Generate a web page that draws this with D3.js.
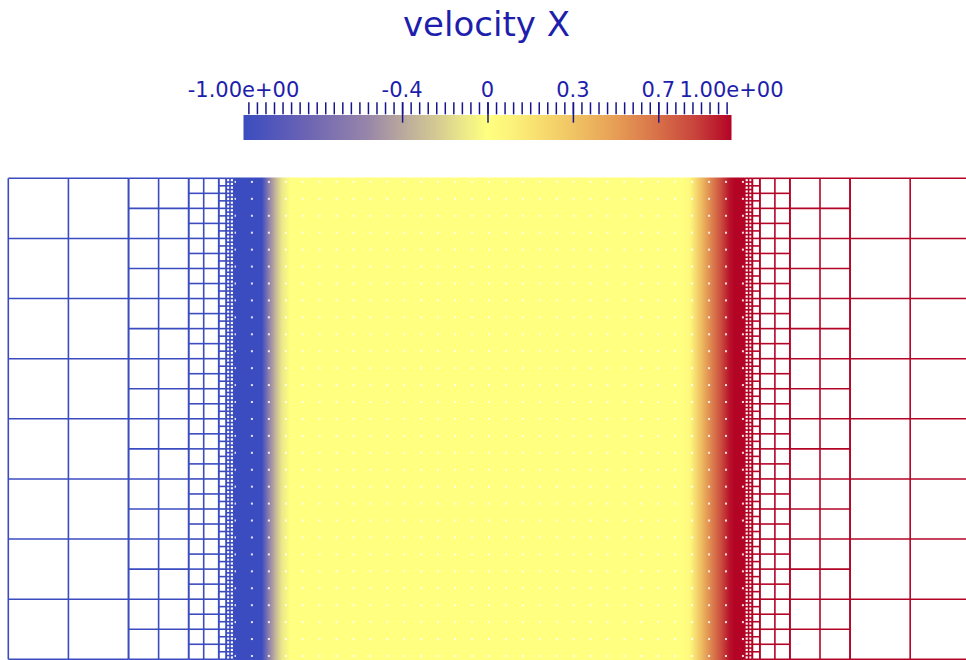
<!DOCTYPE html>
<html><head><meta charset="utf-8">
<script src="https://cdn.jsdelivr.net/npm/d3@7/dist/d3.min.js"></script>
<style>body{margin:0;background:#fff;} svg{display:block;}</style>
</head><body>
<svg id="chart" width="966" height="660"></svg>
<script>
// ---------- data ----------
const title = "velocity X";
const cmapValues = [-1, -0.75, -0.5, -0.35, -0.2, -0.1, 0, 0.1, 0.2, 0.35, 0.5, 0.7, 0.85, 1];
const cmapColors = ["#3b4cc0", "#6a63b4", "#9684aa", "#b9a89d", "#d6cc92", "#ebe889", "#ffff80",
                    "#fcf27a", "#f8e070", "#f0c464", "#e8a458", "#d87048", "#c8443c", "#b40426"];
const minorTickStep = 0.035;
const majorTicks = [-0.35, 0, 0.35, 0.7];
const majorTickLabels = ["-0.4", "0", "0.3", "0.7"];
const rangeValues = [-1, 1];
const rangeLabels = ["-1.00e+00", "1.00e+00"];

// mesh blocks: [x start, x end, refinement level, velocity X]
const meshBlocks = [
  [-1, -0.75, 0, -1], [-0.75, -0.625, 1, -1], [-0.625, -0.5625, 2, -1],
  [-0.5625, -0.546875, 3, -1], [-0.546875, -0.53125, 4, -1],
  [0.53125, 0.546875, 4, 1], [0.546875, 0.5625, 3, 1], [0.5625, 0.625, 2, 1],
  [0.625, 0.75, 1, 1], [0.75, 1, 0, 1]
];
const coarseCell = 0.125;
// fine region velocity profile (x position, velocity X)
const profileX = [-0.53125, -0.4726, -0.46, -0.445, -0.431, -0.414, 0.40, 0.417, 0.438, 0.459, 0.48, 0.50, 0.51, 0.53125];
const profileV = [-1, -1, -0.6, -0.3, -0.1, 0, 0, 0.05, 0.35, 0.6, 0.8, 0.97, 1, 1];
const dotStartX = -0.5287, dotStartY = 0.0069, dotStep = 0.0352;

// ---------- drawing ----------
const svg = d3.select("#chart");
svg.append("rect").attr("width", 966).attr("height", 660).attr("fill", "#fff");
const defs = svg.append("defs");

const color = d3.scaleLinear().domain(cmapValues).range(cmapColors).interpolate(d3.interpolateRgb);
const textColor = "#1e1eac";
const tickColor = "#16168a";

// title
svg.append("text").attr("x", 486.5).attr("y", 36).attr("text-anchor", "middle")
  .attr("font-family", "DejaVu Sans").attr("font-size", 34).attr("fill", textColor).text(title);

// colorbar
const cb = d3.scaleLinear().domain([-1, 1]).range([243.5, 731.5]);
const cbGrad = defs.append("linearGradient").attr("id", "cbGrad")
  .attr("gradientUnits", "userSpaceOnUse").attr("x1", cb(-1)).attr("x2", cb(1)).attr("y1", 0).attr("y2", 0);
cmapValues.forEach((v, i) => cbGrad.append("stop").attr("offset", (v + 1) / 2).attr("stop-color", cmapColors[i]));
svg.append("rect").attr("x", cb(-1)).attr("y", 115).attr("width", cb(1) - cb(-1)).attr("height", 25)
  .attr("fill", "url(#cbGrad)");

const nMinor = Math.floor(1 / minorTickStep + 1e-9);
const minorTicks = d3.range(-nMinor, nMinor + 1).map(k => k * minorTickStep);
const minorAxis = d3.axisTop(cb).tickValues(minorTicks).tickSize(12).tickFormat("");
const gMinor = svg.append("g").attr("transform", "translate(0,114.3)").call(minorAxis);
const majorAxis = d3.axisTop(cb).tickValues(majorTicks).tickSize(20.5).tickFormat("");
const gMajor = svg.append("g").attr("transform", "translate(0,122.7)").call(majorAxis);
[gMinor, gMajor].forEach(g => {
  g.select(".domain").remove();
  g.selectAll("line").attr("stroke", tickColor).attr("stroke-width", 1.5);
});
const labelG = svg.append("g").attr("font-family", "DejaVu Sans").attr("font-size", 21)
  .attr("fill", textColor).attr("text-anchor", "middle");
majorTicks.forEach((v, i) => labelG.append("text").attr("x", cb(v)).attr("y", 96.7).text(majorTickLabels[i]));
rangeValues.forEach((v, i) => labelG.append("text").attr("x", cb(v)).attr("y", 96.7).text(rangeLabels[i]));

// domain scales
const x = d3.scaleLinear().domain([-1, 1]).range([8.3, 970.3]);
const y = d3.scaleLinear().domain([0, 1]).range([659.3, 178.3]);

// fine region (dense mesh appears filled)
const fx0 = profileX[0], fx1 = profileX[profileX.length - 1];
const fGrad = defs.append("linearGradient").attr("id", "fieldGrad")
  .attr("gradientUnits", "userSpaceOnUse").attr("x1", x(fx0)).attr("x2", x(fx1)).attr("y1", 0).attr("y2", 0);
profileX.forEach((p, i) => fGrad.append("stop").attr("offset", (p - fx0) / (fx1 - fx0)).attr("stop-color", color(profileV[i])));
svg.append("rect").attr("x", x(fx0)).attr("y", y(1) - 0.8).attr("width", x(fx1) - x(fx0))
  .attr("height", y(0) - y(1) + 1.6).attr("fill", "url(#fieldGrad)");

// white dots in the dense region
const nDx = Math.round((0.5302 - dotStartX) / dotStep);
const nDy = Math.round((0.9929 - dotStartY) / dotStep);
const dots = [];
for (let i = 0; i <= nDx; i++) for (let j = 0; j <= nDy; j++) dots.push([dotStartX + i * dotStep, dotStartY + j * dotStep]);
svg.append("g").selectAll("rect").data(dots).join("rect")
  .attr("x", d => x(d[0]) - 1).attr("y", d => y(d[1]) - 1).attr("width", 2).attr("height", 2)
  .attr("fill", "#fff").attr("opacity", 0.85);

// coarse mesh wireframe
const meshG = svg.append("g").attr("fill", "none").attr("stroke-width", 1.6);
meshBlocks.forEach(([b0, b1, lvl, v]) => {
  const h = coarseCell / Math.pow(2, lvl);
  const nx = Math.round((b1 - b0) / h), ny = Math.round(1 / h);
  const c = color(v);
  for (let k = 0; k <= nx; k++) {
    const xx = b0 + k * h;
    meshG.append("line").attr("x1", x(xx)).attr("x2", x(xx)).attr("y1", y(0)).attr("y2", y(1)).attr("stroke", c);
  }
  for (let j = 0; j <= ny; j++) {
    const yy = j * h;
    meshG.append("line").attr("x1", x(b0)).attr("x2", x(b1)).attr("y1", y(yy)).attr("y2", y(yy)).attr("stroke", c);
  }
});
</script>
</body></html>
